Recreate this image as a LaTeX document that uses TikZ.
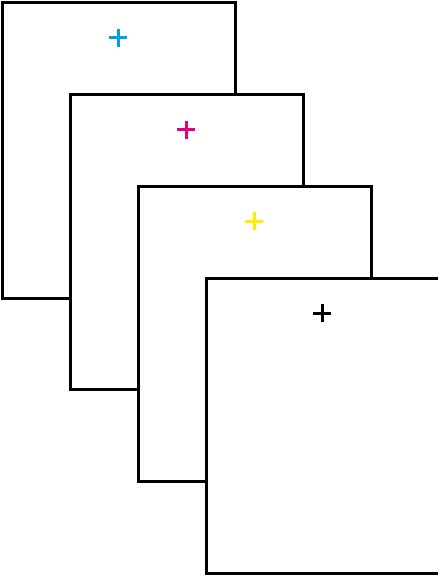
\documentclass[tikz,border=0pt]{standalone}
\usepackage{xcolor}
\usepackage{tikz}
\definecolor{inkcyan}{HTML}{00A0E3}
\definecolor{inkmagenta}{HTML}{E6007E}
\definecolor{inkyellow}{HTML}{FFED00}
\definecolor{inkblack}{HTML}{000000}
\tikzset{
  sheet/.style={draw=black, fill=white, line width=3pt},
  regmark/.style={line width=3pt}
}

\begin{document}
\begin{tikzpicture}[x=1pt, y=-1pt]
  \useasboundingbox (0,0) rectangle (438,578);
  \clip (0,0) rectangle (438,578);
  \foreach \i/\ink in {0/inkcyan,1/inkmagenta,2/inkyellow,3/inkblack}{
    \pgfmathsetmacro{\x}{2+68*\i}
    \pgfmathsetmacro{\y}{3+91.7*\i}
    \draw[sheet] (\x,\y) rectangle ++(233,295);
    \draw[regmark, \ink] (\x+116,\y+35) ++(-9,0) -- ++(18,0)
      (\x+116,\y+35) ++(0,-9) -- ++(0,18);
  }
\end{tikzpicture}
\end{document}
